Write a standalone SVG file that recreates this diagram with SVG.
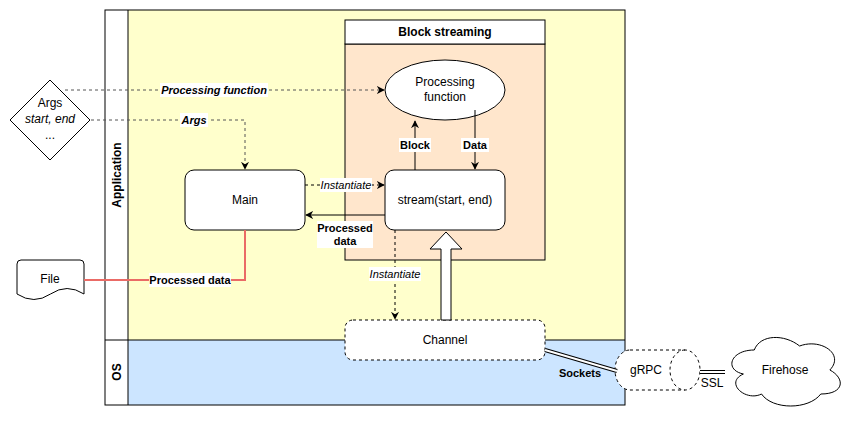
<svg xmlns="http://www.w3.org/2000/svg" width="856" height="421" viewBox="0 0 856 421">
<defs>
<style>
text{font-family:"Liberation Sans",Arial,sans-serif;font-size:12px;fill:#000}
.c{text-anchor:middle}
.b{font-weight:bold;font-size:11px}
.i{font-style:italic;font-size:11px}
.bi{font-weight:bold;font-style:italic;font-size:11px}
.box{fill:#fff;stroke:#000;stroke-width:1}
.ln{fill:none;stroke:#000;stroke-width:1}
.dash{fill:none;stroke:#000;stroke-width:1;stroke-dasharray:3 3}
.dot{fill:none;stroke:#555;stroke-width:1;stroke-dasharray:3 3}
.lbl{fill:#fff}
</style>
<marker id="ah" viewBox="0 0 10 10" refX="9" refY="5" markerWidth="8" markerHeight="8" markerUnits="userSpaceOnUse" orient="auto">
<path d="M0,0 L10,5 L0,10 L3,5 Z" fill="#000"/>
</marker>
</defs>
<rect width="856" height="421" fill="#fff"/>

<g id="pool">
<rect x="128" y="10" width="497" height="330" fill="#FFFFCC"/>
<rect x="128" y="340" width="497" height="65" fill="#CCE5FF"/>
<rect x="105" y="10" width="520" height="395" class="ln"/>
<line x1="128" y1="10" x2="128" y2="405" class="ln"/>
<line x1="105" y1="340" x2="625" y2="340" class="ln"/>
<text class="c" font-weight="bold" transform="translate(121,175) rotate(-90)">Application</text>
<text class="c" font-weight="bold" transform="translate(121,372) rotate(-90)">OS</text>
</g>

<g id="block-streaming">
<rect x="345" y="44" width="200" height="216" fill="#FFE6CC" stroke="#000"/>
<rect x="345" y="20" width="200" height="24" class="box"/>
<text x="445" y="36" class="c" font-weight="bold">Block streaming</text>
</g>

<g id="args">
<polygon points="50,80 90,120 50,160 10,120" class="box"/>
<text x="50" y="107" class="c">Args</text>
<text x="50" y="123" class="c" font-style="italic">start, end</text>
<text x="50" y="139" class="c">...</text>
</g>

<g id="file">
<path d="M21,260 H80 Q84,260 84,264 V294 Q67,283 50.5,294 Q34,305 17,294 V264 Q17,260 21,260 Z" class="box"/>
<text x="50" y="283" class="c">File</text>
</g>

<g id="processing-function">
<ellipse cx="445" cy="90" rx="60" ry="30" class="box"/>
<text x="445" y="86" class="c">Processing</text>
<text x="445" y="101" class="c">function</text>
</g>

<g id="main">
<rect x="185" y="170" width="120" height="60" rx="9" class="box"/>
<text x="245" y="204" class="c">Main</text>
</g>

<g id="stream">
<rect x="385" y="170" width="120" height="60" rx="9" class="box"/>
<text x="445" y="204" class="c">stream(start, end)</text>
</g>

<g id="channel">
<rect x="345" y="320" width="200" height="40" rx="8" fill="#fff" stroke="#000" stroke-dasharray="3 3"/>
<text x="445" y="344" class="c">Channel</text>
</g>

<g id="grpc">
<path d="M630,350 H685 A15,20 0 0 1 685,390 H630 A15,20 0 0 1 630,350 Z" fill="#fff" stroke="#000" stroke-dasharray="3 3"/>
<path d="M685,350 A15,20 0 0 0 685,390" fill="none" stroke="#000" stroke-dasharray="3 3"/>
<text x="646" y="374" class="c">gRPC</text>
</g>

<g id="firehose">
<path d="M754.25,350 C730.05,350 724,370 743.36,374 C724,382.8 745.78,402 761.51,394 C772.4,410 808.7,410 820.8,394 C845,394 845,378 829.88,370 C845,354 820.8,338 799.63,346 C784.5,334 760.3,334 754.25,350 Z" class="box"/>
<text x="785" y="374" class="c">Firehose</text>
</g>

<g id="connectors">
<path d="M65,90 H384" class="dot" marker-end="url(#ah)"/>
<rect x="160" y="83" width="108" height="14" class="lbl"/>
<text x="214" y="94" class="c bi">Processing function</text>

<path d="M91,120 H245 V169" class="dot" marker-end="url(#ah)"/>
<rect x="180" y="113" width="28" height="14" class="lbl"/>
<text x="194" y="124" class="c bi">Args</text>

<path d="M305,185 H384" class="dash" marker-end="url(#ah)"/>
<rect x="320" y="178" width="52" height="14" class="lbl"/>
<text x="346" y="189" class="c i">Instantiate</text>

<path d="M385,215 H306" class="ln" marker-end="url(#ah)"/>
<rect x="317" y="221" width="56" height="27" class="lbl"/>
<text x="345" y="232" class="c b">Processed</text>
<text x="345" y="245" class="c b">data</text>

<path d="M415,170 V121" class="ln" marker-end="url(#ah)"/>
<rect x="399" y="138" width="32" height="14" class="lbl"/>
<text x="415" y="149" class="c b">Block</text>

<path d="M475,110 V169" class="ln" marker-end="url(#ah)"/>
<rect x="461" y="138" width="28" height="14" class="lbl"/>
<text x="475" y="149" class="c b">Data</text>

<path d="M395,230 V319" class="dash" marker-end="url(#ah)"/>
<rect x="369" y="267" width="52" height="14" class="lbl"/>
<text x="395" y="278" class="c i">Instantiate</text>

<path d="M441,320 V249 H430 L446,232 L462,249 H451 V320 Z" fill="#fff" stroke="#000"/>

<path d="M245,230 V280 H84" fill="none" stroke="#EA6B66" stroke-width="2"/>
<rect x="149" y="273" width="82" height="14" class="lbl"/>
<text x="190" y="284" class="c b">Processed data</text>

<path d="M545,350 L617,371" fill="none" stroke="#000" stroke-width="4"/>
<path d="M545,350 L617,371" fill="none" stroke="#fff" stroke-width="2"/>
<text x="580" y="377" class="c b">Sockets</text>

<path d="M700,372 H725" fill="none" stroke="#000" stroke-width="4"/>
<path d="M700,372 H725" fill="none" stroke="#fff" stroke-width="2"/>
<text x="712" y="387" class="c" font-size="11">SSL</text>
</g>
</svg>
